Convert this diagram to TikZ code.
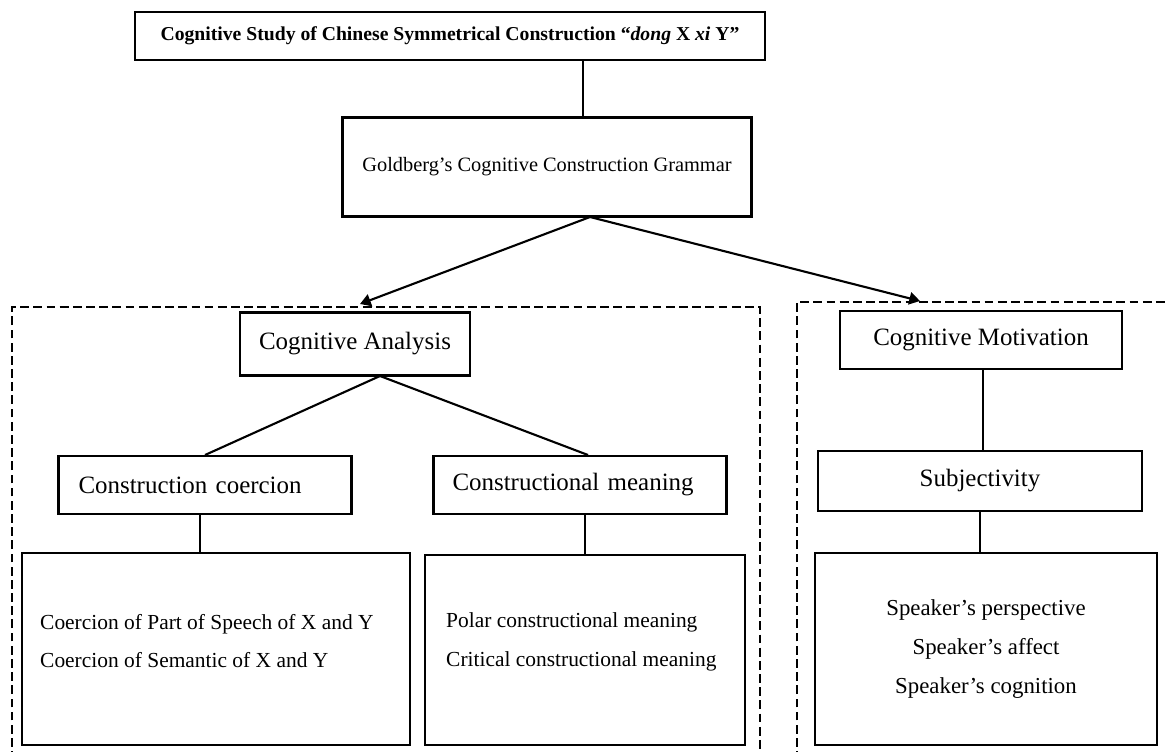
\documentclass[tikz,border=0pt]{standalone}
\usepackage{fontspec}
\setmainfont{Liberation Serif}
\usetikzlibrary{arrows.meta,positioning,calc}

\begin{document}
\begin{tikzpicture}[x=0.02cm,y=-0.02cm,>=Triangle,
  every node/.style={font=\fontsize{11.6}{14}\selectfont},
  box/.style={draw,line width=1.4pt,inner sep=0pt},
  mid/.style={box,font=\fontsize{14.2}{17}\selectfont},
  list/.style={font=\fontsize{12.2}{22}\selectfont},
  link/.style={line width=1.2pt},
  frame/.style={draw,dashed,line width=1.3pt,dash pattern=on 5pt off 2.5pt}]
\useasboundingbox (0,0) rectangle (1166,751);
% top of the tree
\node[box,minimum width=630*0.02cm,minimum height=48*0.02cm,font=\fontsize{11.2}{14}\selectfont] (title) at (450,36)
  {\bfseries Cognitive Study of Chinese Symmetrical Construction \textquotedblleft\textit{dong} X \textit{xi} Y\textquotedblright};
\node[box,minimum width=409*0.02cm,minimum height=99*0.02cm] (gold) at (547,167) {Goldberg\textquoteright s Cognitive Construction Grammar};
\draw[link] (583,60) -- (583,118);
% dashed frames
\begin{scope}
\clip (0,0) rectangle (1166,751);
\draw[frame] (12,760) |- (760,307) -- (760,760);
\draw[frame] (797,760) |- (1180,302);
\end{scope}
% left frame
\node[mid,minimum width=230*0.02cm,minimum height=63*0.02cm] (ana) at (355,344) {Cognitive Analysis};
\node[mid,inner xsep=20*0.02cm,text width=253*0.02cm,align=left,minimum height=58*0.02cm] (coer) at (205,485) {Construction coercion};
\node[mid,inner xsep=19*0.02cm,text width=255*0.02cm,align=left,minimum height=58*0.02cm] (mean) at (580,485) {Constructional meaning};
\node[box,minimum width=388*0.02cm,minimum height=192*0.02cm] (coerlist) at (216,649) {};
\node[list,anchor=west,align=left] at (34,641)
  {Coercion of Part of Speech of X and Y\\Coercion of Semantic of X and Y};
\node[box,minimum width=320*0.02cm,minimum height=190*0.02cm] (meanlist) at (585,650) {};
\node[list,anchor=west,align=left] at (440,642)
  {Polar constructional meaning\\Critical constructional meaning};
% right frame
\node[mid,minimum width=282*0.02cm,minimum height=58*0.02cm] (moti) at (981,340) {Cognitive Motivation};
\node[mid,minimum width=324*0.02cm,minimum height=60*0.02cm] (subj) at (980,481) {Subjectivity};
\node[box,minimum width=342*0.02cm,minimum height=192*0.02cm,align=center,font=\fontsize{13}{22}\selectfont] (speaker) at (986,649)
  {Speaker\textquoteright s perspective\\Speaker\textquoteright s affect\\Speaker\textquoteright s cognition};
% connectors
\coordinate (split) at (590,217);
\draw[link,->] (split) -- (360,304);
\draw[link,->] (split) -- (920,301);
\coordinate (fork) at (380,376);
\draw[link] (fork) -- (205,455);
\draw[link] (fork) -- (588,455);
\draw[link] (coer.south -| 200,0) -- (coerlist.north -| 200,0);
\draw[link] (mean.south -| 585,0) -- (meanlist);
\draw[link] (moti.south -| 983,0) -- (subj.north -| 983,0);
\draw[link] (subj) -- (speaker.north -| subj);
\end{tikzpicture}
\end{document}
